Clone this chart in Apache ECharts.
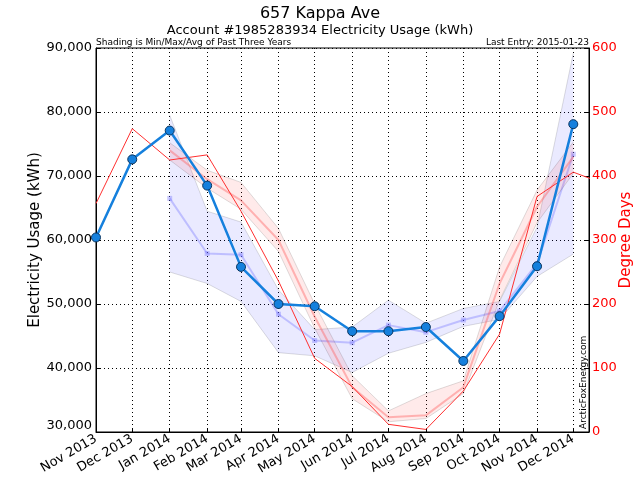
<!DOCTYPE html>
<html>
<head>
<meta charset="utf-8">
<script src="https://cdn.jsdelivr.net/npm/echarts@6/dist/echarts.min.js"></script>
<style>html,body{margin:0;padding:0;background:#fff;overflow:hidden;}#c{width:640px;height:480px;}</style>
</head>
<body>
<div id="c"></div>
<script>
// ---- data ----
const months = ['2013-11','2013-12','2014-01','2014-02','2014-03','2014-04','2014-05','2014-06','2014-07','2014-08','2014-09','2014-10','2014-11','2014-12'];
const usage = [60400, 72600, 77100, 68500, 55800, 50000, 49650, 45750, 45750, 46400, 41100, 48100, 55900, 78100];
const ddMonths = ['2013-11','2013-12','2014-01','2014-02','2014-03','2014-04','2014-05','2014-06','2014-07','2014-08','2014-09','2014-10','2014-11','2014-12','2015-01'];
const degreeDays = [357, 474, 425, 433, 345, 236, 115, 71, 12, 4, 64, 153, 368, 406, 384];
const pastMonths = ['2014-01','2014-02','2014-03','2014-04','2014-05','2014-06','2014-07','2014-08','2014-09','2014-10','2014-11','2014-12'];
const usageAvg = [66500, 57900, 57700, 48400, 44300, 43950, 46700, 45600, 47500, 48900, 56300, 73400];
const usageMin = [55000, 53200, 50400, 42400, 41900, 39300, 42300, 44000, 46500, 47600, 54300, 57800];
const usageMax = [79500, 64500, 62800, 52200, 46000, 46400, 50600, 47000, 49300, 50400, 62000, 89200];
const ddAvg = [440, 395, 362, 300, 180, 70, 23, 26, 70, 232, 352, 430];
const ddMin = [425, 381, 348, 282, 162, 52, 16, 21, 60, 206, 327, 404];
const ddMax = [452, 409, 390, 318, 200, 88, 33, 60, 80, 258, 378, 453];
const monthNames = ['Jan','Feb','Mar','Apr','May','Jun','Jul','Aug','Sep','Oct','Nov','Dec'];
const xStart = '2013-11-01';
const xEnd = '2014-12-14';

function ts(s){ const p = s.split('-').map(Number); return new Date(p[0], p[1]-1, p[2]||1).getTime(); }
function pairs(ms, vals){ return ms.map((m,i)=>[ts(m), vals[i]]); }

const FONT = 'DejaVu Sans';
const gridLine = {show:true, lineStyle:{color:'#000', type:[1,3], width:1}};
const bandEdge = 'rgba(0,0,0,0.13)';

const chart = echarts.init(document.getElementById('c'), null, {renderer:'canvas'});
chart.setOption({
  animation:false,
  backgroundColor:'#fff',
  textStyle:{fontFamily:FONT},
  title:[
    {text:'657 Kappa Ave', left:'center', top:1, textStyle:{fontFamily:FONT, fontSize:16, fontWeight:'normal', color:'#000'}},
    {text:'Account #1985283934 Electricity Usage (kWh)', left:'center', top:19, textStyle:{fontFamily:FONT, fontSize:13, fontWeight:'normal', color:'#000'}}
  ],
  graphic:[
    {type:'text', left:96, top:38, style:{text:'Shading is Min/Max/Avg of Past Three Years', font:'9px "DejaVu Sans"', fill:'#000'}},
    {type:'text', right:51, top:38, style:{text:'Last Entry: 2015-01-23', font:'9px "DejaVu Sans"', fill:'#000', textAlign:'right'}},
    {type:'text', x:579, y:429, rotation:Math.PI/2, style:{text:'ArcticFoxEnergy.com', font:'9px "DejaVu Sans"', fill:'#000', textAlign:'left', textVerticalAlign:'top'}}
  ],
  grid:{left:96, right:51, top:48, bottom:48, outerBoundsMode:'none', containLabel:false, show:true, borderColor:'#000', borderWidth:1, backgroundColor:'transparent'},
  xAxis:{
    type:'time', min:ts(xStart), max:ts(xEnd),
    minInterval:28*86400000, maxInterval:31*86400000, splitNumber:14,
    axisLine:{show:true, lineStyle:{color:'#000'}},
    axisTick:{show:true, inside:true, length:4, lineStyle:{color:'#000'}},
    splitLine:gridLine,
    axisLabel:{rotate:30, fontSize:13, color:'#000', fontFamily:FONT, margin:6, hideOverlap:false,
      formatter:function(v){ const d=new Date(v); return monthNames[d.getMonth()]+' '+d.getFullYear(); }}
  },
  yAxis:[
    {type:'value', min:30000, max:90000, interval:10000, position:'left',
     name:'Electricity Usage (kWh)', nameLocation:'middle', nameGap:53, nameMoveOverlap:false,
     nameTextStyle:{fontSize:15, color:'#000', fontFamily:FONT},
     axisLine:{show:true, lineStyle:{color:'#000'}},
     axisTick:{show:true, inside:true, length:4, lineStyle:{color:'#000'}},
     splitLine:gridLine,
     axisLabel:{fontSize:13, color:'#000', fontFamily:FONT, margin:4, verticalAlignMinLabel:'bottom',
       formatter:function(v){ return v.toLocaleString('en-US'); }}},
    {type:'value', min:0, max:600, interval:100, position:'right',
     name:'Degree Days', nameLocation:'middle', nameGap:30, nameMoveOverlap:false,
     nameTextStyle:{fontSize:15, color:'#ff0000', fontFamily:FONT},
     axisLine:{show:true, lineStyle:{color:'#000'}},
     axisTick:{show:true, inside:true, length:4, lineStyle:{color:'#000'}},
     splitLine:{show:false},
     axisLabel:{fontSize:13, color:'#ff0000', fontFamily:FONT, margin:3}}
  ],
  series:[
    {name:'uMinBase', type:'line', yAxisIndex:0, stack:'ub', data:pairs(pastMonths, usageMin), symbol:'none',
     lineStyle:{color:bandEdge, width:1}, z:1},
    {name:'uBand', type:'line', yAxisIndex:0, stack:'ub', data:pairs(pastMonths, usageMax.map((v,i)=>v-usageMin[i])), symbol:'none',
     lineStyle:{color:bandEdge, width:1}, areaStyle:{color:'rgba(40,40,255,0.14)'}, z:1},
    {name:'uAvg', type:'line', yAxisIndex:0, data:pairs(pastMonths, usageAvg), symbol:'rect', symbolSize:5,
     lineStyle:{color:'rgba(110,110,255,0.35)', width:2}, itemStyle:{color:'rgba(110,110,255,0.35)'}, z:2},
    {name:'dMinBase', type:'line', yAxisIndex:1, stack:'db', data:pairs(pastMonths, ddMin), symbol:'none',
     lineStyle:{color:bandEdge, width:1}, z:3},
    {name:'dBand', type:'line', yAxisIndex:1, stack:'db', data:pairs(pastMonths, ddMax.map((v,i)=>v-ddMin[i])), symbol:'none',
     lineStyle:{color:bandEdge, width:1}, areaStyle:{color:'rgba(255,40,40,0.14)'}, z:3},
    {name:'dAvg', type:'line', yAxisIndex:1, data:pairs(pastMonths, ddAvg), symbol:'none',
     lineStyle:{color:'rgba(255,90,90,0.4)', width:2}, z:4},
    {name:'degreeDays', type:'line', yAxisIndex:1, data:pairs(ddMonths, degreeDays), symbol:'none',
     lineStyle:{color:'#ff3030', width:1}, z:5},
    {name:'usage', type:'line', yAxisIndex:0, data:pairs(months, usage), symbol:'circle', symbolSize:9,
     lineStyle:{color:'#1580dd', width:2.5}, itemStyle:{color:'#1580dd', borderColor:'#0a3560', borderWidth:1}, z:6}
  ]
});
</script>
</body>
</html>
